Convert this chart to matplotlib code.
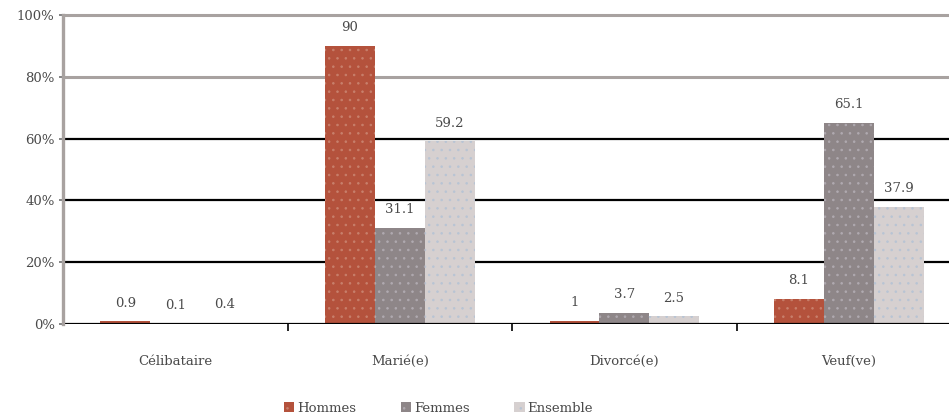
import matplotlib
matplotlib.use("Agg")
import matplotlib.pyplot as plt
import numpy as np

categories = ["Célibataire", "Marié(e)", "Divorcé(e)", "Veuf(ve)"]
series_names = ["Hommes", "Femmes", "Ensemble"]
hommes = [0.9, 90, 1, 8.1]
femmes = [0.1, 31.1, 3.7, 65.1]
ensemble = [0.4, 59.2, 2.5, 37.9]
value_labels = [["0.9", "90", "1", "8.1"], ["0.1", "31.1", "3.7", "65.1"], ["0.4", "59.2", "2.5", "37.9"]]
yticks = [0, 20, 40, 60, 80, 100]
ytick_labels = ["0%", "20%", "40%", "60%", "80%", "100%"]

colors = ["#b4523c", "#8e8688", "#d6d0d0"]
hatch_colors = ["#c8806c", "#b0aab0", "#b8c4d4"]

plt.rcParams['font.family'] = ['DejaVu Serif']
plt.rcParams['hatch.linewidth'] = 0.6

W, H = 949, 418
fig = plt.figure(figsize=(W / 100, H / 100), dpi=100)
left = 63 / W
bottom = (H - 324) / H
top = (H - 15) / H
ax = fig.add_axes([left, bottom, 1 - left, top - bottom])

x = np.arange(len(categories))
bw = 0.222
data = [hommes, femmes, ensemble]
fs = 9.5
tc = '#4a4a4a'
for i, (vals, name) in enumerate(zip(data, series_names)):
    xs = x + (i - 1) * bw
    ax.bar(xs, vals, width=bw, color=colors[i], label=name, zorder=3,
           linewidth=0, hatch='..', edgecolor=hatch_colors[i])
    for xi, v, lab in zip(xs, vals, value_labels[i]):
        ax.annotate(lab, (xi, v), xytext=(0, 13), textcoords='offset points',
                    ha='center', va='center', fontsize=fs, color=tc, zorder=5,
                    bbox=dict(boxstyle='square,pad=0.1', fc='white', ec='none'))

ax.set_ylim(0, 100)
ax.set_xlim(-0.5, 3.5 - 12 / 224)

# gridlines
for yv in [20, 40, 60]:
    ax.axhline(yv, color='black', lw=1.6, zorder=2)
for yv in [80, 100]:
    ax.axhline(yv, color='#a8a2a0', lw=2.2, zorder=2, clip_on=False)
ax.axhline(0, color='black', lw=1.6, zorder=4)

ax.set_yticks(yticks)
ax.set_yticklabels(ytick_labels, fontsize=fs, color=tc)
ax.tick_params(axis='y', length=3, width=1.2, color='#707070', pad=3)

ax.set_xticks([0.5, 1.5, 2.5], minor=False)
ax.set_xticklabels([])
ax.tick_params(axis='x', which='major', length=5, width=1.2, color='black', direction='out')
ax.set_xticks(x, minor=True)
ax.set_xticklabels(categories, minor=True, fontsize=fs, color=tc)
ax.tick_params(axis='x', which='minor', length=0, pad=22)

for s in ['top', 'right', 'bottom']:
    ax.spines[s].set_visible(False)
ax.spines['left'].set_color('#a8a2a0')
ax.spines['left'].set_linewidth(2.4)
ax.spines['left'].set_zorder(6)

fig.legend(loc='center', bbox_to_anchor=(0.462, 1 - 408 / H), ncol=3, frameon=False,
           fontsize=fs, handlelength=0.8, handleheight=0.8, handletextpad=0.2,
           columnspacing=3.4, labelcolor=tc)

fig.savefig("out.png", dpi=100)
